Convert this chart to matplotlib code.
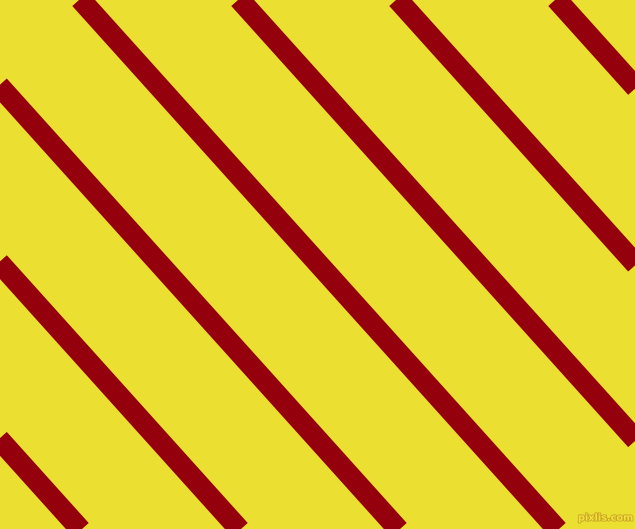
import matplotlib
matplotlib.use("Agg")
import matplotlib.pyplot as plt
import matplotlib.patheffects as pe

# Stripe centre lines: x position where each stripe crosses the top edge (y=0)
# and where it crosses the bottom edge (y=529), in pixel units.
stripe_top_x = [-396, -237, -78, 81, 240, 398, 557]
stripe_bottom_x = [80, 239, 398, 557, 716, 874, 1033]

background_color = "#EBDF31"
stripe_color = "#94000B"
watermark = "pixlis.com"

W, H = 635, 529
fig = plt.figure(figsize=(W / 100, H / 100), dpi=100)
fig.patch.set_facecolor(background_color)
# axes extends 10% beyond the figure on every side so the stripes' clipped
# ends fall outside the visible picture
m = 0.1
ax = fig.add_axes([-m, -m, 1 + 2 * m, 1 + 2 * m])
ax.set_facecolor(background_color)
ax.set_xlim(-m * W, W + m * W)
ax.set_ylim(H + m * H, -m * H)
ax.axis("off")

for xt, xb in zip(stripe_top_x, stripe_bottom_x):
    ax.axline((xt, 0), (xb, H), color=stripe_color, linewidth=21 * 72 / 100,
              solid_capstyle="butt")

fig.text(0.998, 0.012, watermark, ha="right", va="bottom", fontsize=7,
         fontweight="bold", color="#F2E23A", family="DejaVu Sans",
         path_effects=[pe.withStroke(linewidth=1.2, foreground="#C9A526")])

fig.savefig("out.png", dpi=100, facecolor=background_color)
